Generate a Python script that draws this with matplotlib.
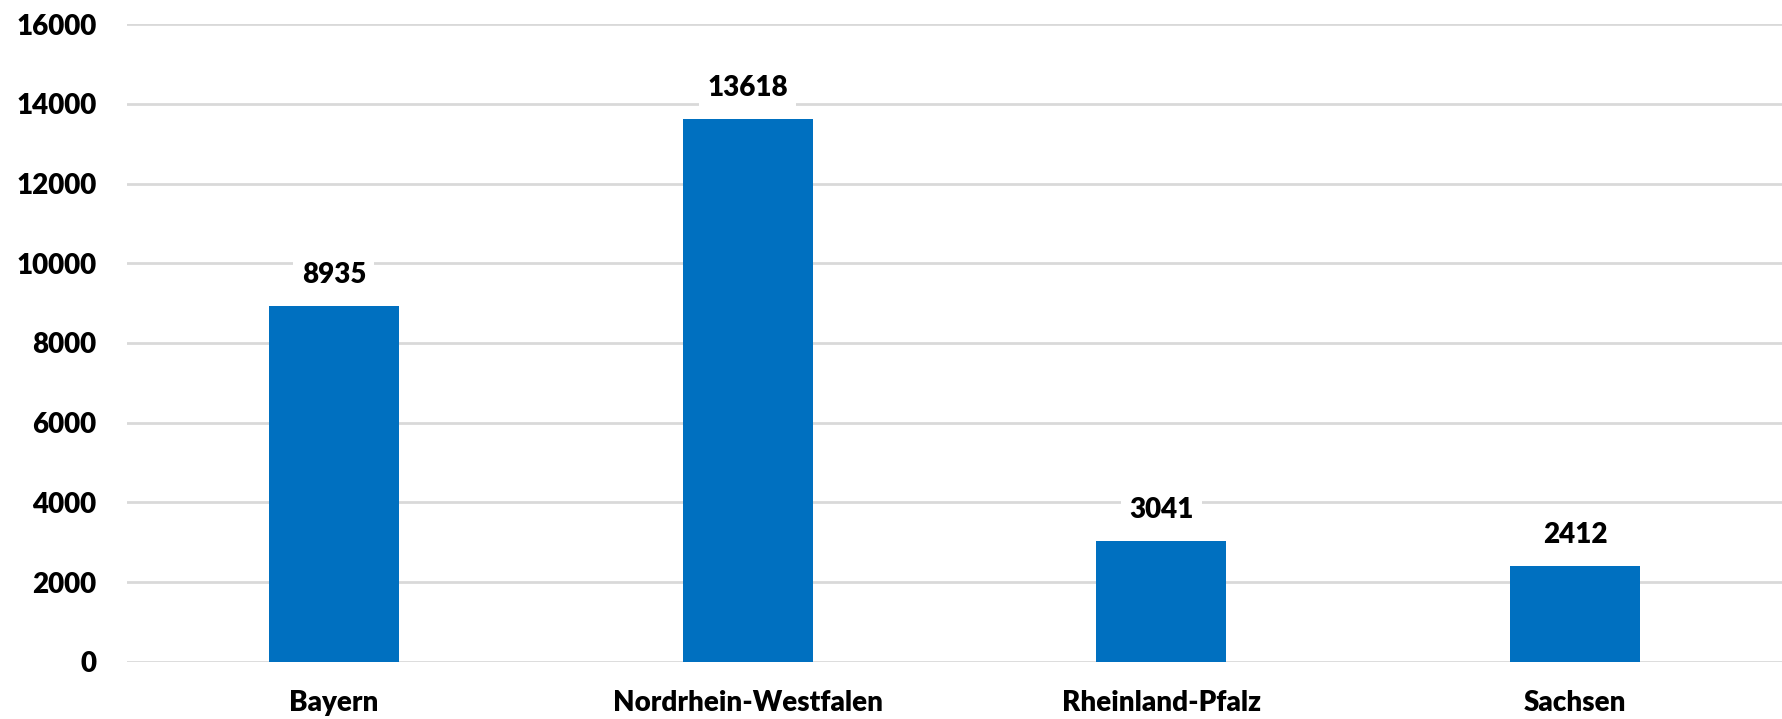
import numpy as np
import matplotlib
matplotlib.use('Agg')
import matplotlib.pyplot as plt

# ── Data ─────────────────────────────────────────────────────────────────────
states = ['Bayern', 'Nordrhein-Westfalen', 'Rheinland-Pfalz', 'Sachsen']
counts = [8935, 13618, 3041, 2412]
y_ticks = [0, 2000, 4000, 6000, 8000, 10000, 12000, 14000, 16000]

BAR_COLOR = '#0070C0'
GRID_COLOR = '#D9D9D9'
WEIGHT = 'heavy'

plt.rcParams['font.family'] = ['Lato', 'DejaVu Sans']

fig = plt.figure(figsize=(17.82, 7.19), dpi=100)
ax = fig.add_axes([0.0713, 0.0793, 0.9287, 0.8873])

x = np.arange(len(states))
ax.bar(x, counts, width=0.314, color=BAR_COLOR, zorder=3)

for xi, v in zip(x, counts):
    ax.annotate(str(v), (xi, v), xytext=(0, 22), textcoords='offset points',
                ha='center', va='center', fontsize=20, fontweight=WEIGHT,
                bbox=dict(boxstyle='square,pad=0.3', fc='white', ec='none'),
                zorder=4)

ax.set_xlim(-0.5, len(states) - 0.5)
ax.set_ylim(0, 16000)
ax.set_yticks(y_ticks)
ax.set_yticklabels([str(t) for t in y_ticks], fontsize=20, fontweight=WEIGHT)
ax.set_xticks(x)
ax.set_xticklabels(states, fontsize=20, fontweight=WEIGHT)

ax.grid(axis='y', color=GRID_COLOR, linewidth=2, zorder=0)
ax.set_axisbelow(True)
for s in ax.spines.values():
    s.set_visible(False)
ax.tick_params(axis='both', length=0)
ax.tick_params(axis='y', pad=22)
ax.tick_params(axis='x', pad=20)

fig.savefig('out.png', dpi=100)
